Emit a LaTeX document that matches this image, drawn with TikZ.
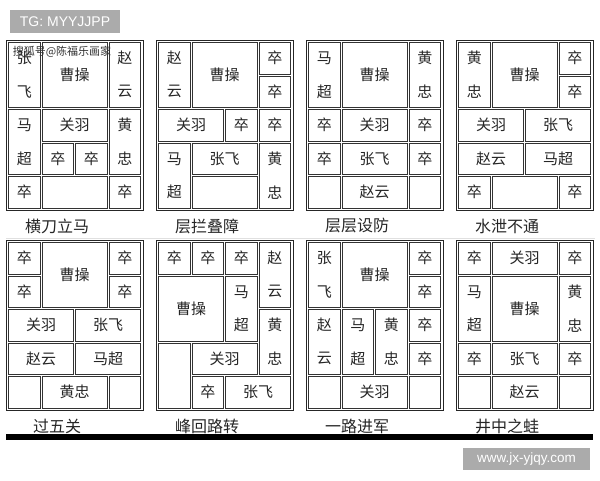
\documentclass[tikz,border=0pt]{standalone}
\usepackage{fontspec}
\setmainfont{Liberation Sans}
\newfontfamily\cjk{Noto Sans CJK SC}
\usetikzlibrary{positioning}

\tikzset{
  piece/.style={draw=black!80, line width=0.8pt},
  frame/.style={draw=black!85, line width=0.9pt},
  piecetext/.style={font=\cjk\fontsize{15}{15}\selectfont, text=black!85, inner sep=0pt},
  boardname/.style={font=\cjk\fontsize{16}{16}\selectfont, text=black!85, inner sep=0pt},
  markbox/.style={fill=black!33, text=white, inner sep=0pt},
}

% one cell is 33.5 units, the frame has 1.5 units margin
\newcommand{\piece}[5]{% col, row, width, height, text
  \draw[piece] ({1.5+33.5*#1+1},{1.5+33.5*#2+1}) rectangle ({1.5+33.5*(#1+#3)-1},{1.5+33.5*(#2+#4)-1});
  \node[piecetext] (\bname-#1-#2) at ({1.5+33.5*(#1+#3/2)},{1.5+33.5*(#2+#4/2)}) {#5};}
\newcommand{\vpiece}[4]{% col, row, upper text, lower text
  \draw[piece] ({1.5+33.5*#1+1},{1.5+33.5*#2+1}) rectangle ({1.5+33.5*(#1+1)-1},{1.5+33.5*(#2+2)-1});
  \node[piecetext] (\bname-#1-#2a) at ({1.5+33.5*(#1+0.5)},{1.5+33.5*(#2+0.5)}) {#3};
  \node[piecetext] (\bname-#1-#2b) at ({1.5+33.5*(#1+0.5)},{1.5+33.5*(#2+1.5)}) {#4};}
\newcommand{\soldier}[2]{\piece{#1}{#2}{1}{1}{卒}}
\newcommand{\board}[4]{% x, y, name, title
  \def\bname{#3}
  \begin{scope}[shift={(#1,#2)}]
    \draw[frame] (0,0) rectangle (137,170);
    \node[boardname] (#3-title) at (51,186) {#4};
}

\begin{document}
\begin{tikzpicture}[x=1pt, y=-1pt]
  \useasboundingbox[fill=white] (0,0) rectangle (600,480);

  % first row
  \board{6}{40}{hdlm}{横刀立马}
    \vpiece{0}{0}{张}{飞}
    \piece{1}{0}{2}{2}{曹操}
    \vpiece{3}{0}{赵}{云}
    \vpiece{0}{2}{马}{超}
    \piece{1}{2}{2}{1}{关羽}
    \vpiece{3}{2}{黄}{忠}
    \soldier{1}{3} \soldier{2}{3}
    \soldier{0}{4} \piece{1}{4}{2}{1}{} \soldier{3}{4}
  \end{scope}

  \board{156}{40}{cldz}{层拦叠障}
    \vpiece{0}{0}{赵}{云}
    \piece{1}{0}{2}{2}{曹操}
    \soldier{3}{0} \soldier{3}{1}
    \piece{0}{2}{2}{1}{关羽}
    \soldier{2}{2} \soldier{3}{2}
    \vpiece{0}{3}{马}{超}
    \piece{1}{3}{2}{1}{张飞}
    \vpiece{3}{3}{黄}{忠}
    \piece{1}{4}{2}{1}{}
  \end{scope}

  \board{306}{40}{ccsf}{层层设防}
    \vpiece{0}{0}{马}{超}
    \piece{1}{0}{2}{2}{曹操}
    \vpiece{3}{0}{黄}{忠}
    \soldier{0}{2} \piece{1}{2}{2}{1}{关羽} \soldier{3}{2}
    \soldier{0}{3} \piece{1}{3}{2}{1}{张飞} \soldier{3}{3}
    \piece{0}{4}{1}{1}{} \piece{1}{4}{2}{1}{赵云} \piece{3}{4}{1}{1}{}
  \end{scope}

  \board{456}{40}{sxbt}{水泄不通}
    \vpiece{0}{0}{黄}{忠}
    \piece{1}{0}{2}{2}{曹操}
    \soldier{3}{0} \soldier{3}{1}
    \piece{0}{2}{2}{1}{关羽} \piece{2}{2}{2}{1}{张飞}
    \piece{0}{3}{2}{1}{赵云} \piece{2}{3}{2}{1}{马超}
    \soldier{0}{4} \piece{1}{4}{2}{1}{} \soldier{3}{4}
  \end{scope}

  \draw[black!12, line width=0.6pt] (6,238) -- (595,238);

  % second row
  \board{6}{240}{gwg}{过五关}
    \soldier{0}{0} \piece{1}{0}{2}{2}{曹操} \soldier{3}{0}
    \soldier{0}{1} \soldier{3}{1}
    \piece{0}{2}{2}{1}{关羽} \piece{2}{2}{2}{1}{张飞}
    \piece{0}{3}{2}{1}{赵云} \piece{2}{3}{2}{1}{马超}
    \piece{0}{4}{1}{1}{} \piece{1}{4}{2}{1}{黄忠} \piece{3}{4}{1}{1}{}
  \end{scope}

  \board{156}{240}{fhlz}{峰回路转}
    \soldier{0}{0} \soldier{1}{0} \soldier{2}{0}
    \vpiece{3}{0}{赵}{云}
    \piece{0}{1}{2}{2}{曹操}
    \vpiece{2}{1}{马}{超}
    \vpiece{3}{2}{黄}{忠}
    \piece{0}{3}{1}{2}{}
    \piece{1}{3}{2}{1}{关羽}
    \soldier{1}{4} \piece{2}{4}{2}{1}{张飞}
  \end{scope}

  \board{306}{240}{yljj}{一路进军}
    \vpiece{0}{0}{张}{飞}
    \piece{1}{0}{2}{2}{曹操}
    \soldier{3}{0} \soldier{3}{1}
    \vpiece{0}{2}{赵}{云}
    \vpiece{1}{2}{马}{超}
    \vpiece{2}{2}{黄}{忠}
    \soldier{3}{2} \soldier{3}{3}
    \piece{0}{4}{1}{1}{} \piece{1}{4}{2}{1}{关羽} \piece{3}{4}{1}{1}{}
  \end{scope}

  \board{456}{240}{jzzw}{井中之蛙}
    \soldier{0}{0} \piece{1}{0}{2}{1}{关羽} \soldier{3}{0}
    \vpiece{0}{1}{马}{超}
    \piece{1}{1}{2}{2}{曹操}
    \vpiece{3}{1}{黄}{忠}
    \soldier{0}{3} \piece{1}{3}{2}{1}{张飞} \soldier{3}{3}
    \piece{0}{4}{1}{1}{} \piece{1}{4}{2}{1}{赵云} \piece{3}{4}{1}{1}{}
  \end{scope}

  \fill[black] (6,434) rectangle (593,440);

  % watermarks
  \node[markbox, minimum width=110pt, minimum height=23pt, font=\fontsize{14}{14}\selectfont]
    (tg) at (65,21.5) {TG: MYYJJPP};
  \node[inner sep=0pt, text=black!80, font=\cjk\fontsize{11}{11}\selectfont]
    (sohu) at (62,52) {搜狐号@陈福乐画家};
  \node[markbox, minimum width=127pt, minimum height=22pt, font=\fontsize{13.5}{13.5}\selectfont]
    (site) at (526.5,459) {www.jx-yjqy.com};
\end{tikzpicture}
\end{document}
